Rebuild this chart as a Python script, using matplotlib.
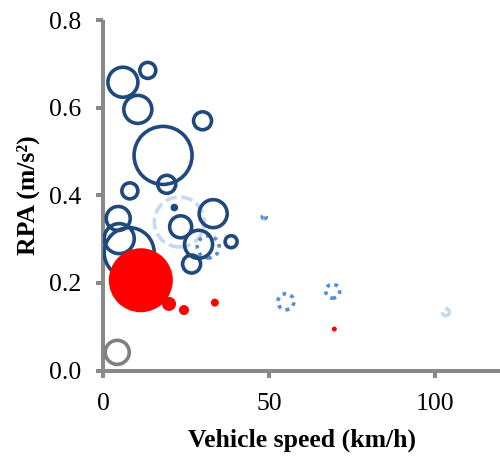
import matplotlib
matplotlib.use("Agg")
import matplotlib.pyplot as plt
import numpy as np

plt.rcParams['font.family'] = ['Liberation Serif', 'DejaVu Serif']

# ---- data ----
dark_x = [5.9, 13.4, 10.4, 18.0, 29.9, 19.1, 8.0, 21.4, 33.1, 23.3, 4.5, 4.8, 7.8, 28.7, 26.6, 38.5]
dark_y = [0.658, 0.685, 0.596, 0.491, 0.570, 0.425, 0.410, 0.372, 0.358, 0.328, 0.347, 0.301, 0.269, 0.288, 0.243, 0.294]
dark_v = [225, 64, 196, 841, 81, 81, 64, 4, 196, 121, 144, 225, 625, 196, 81, 36]

light_x = [22.9, 103.2]
light_y = [0.339, 0.133]
light_v = [625, 12]

mid_x = [31.6, 48.5, 55.0, 69.1]
mid_y = [0.282, 0.351, 0.157, 0.181]
mid_v = [121, 4, 64, 49]

red_x = [11.3, 19.8, 24.3, 33.6, 69.6]
red_y = [0.206, 0.152, 0.138, 0.155, 0.0946]
red_v = [1024, 49, 25, 16, 6]

gray_x = [4.2]
gray_y = [0.0415]
gray_v = [144]

x_ticks = [0, 50, 100]
y_ticks = [0.0, 0.2, 0.4, 0.6, 0.8]
x_label = "Vehicle speed (km/h)"
y_label = "RPA (m/s²)"

# ---- figure ----
fig = plt.figure(figsize=(5.0, 4.59), dpi=100)
ax = fig.add_axes([0.2066, 0.1928, 0.7934, 0.7636])

def sz(v):
    return np.array(v) * (2 * 0.72) ** 2

LW = 2.6
ax.scatter(dark_x, dark_y, s=sz(dark_v), facecolors='none', edgecolors='#1F497D', linewidths=LW, zorder=3)
ax.scatter(light_x, light_y, s=sz(light_v), facecolors='none', edgecolors='#C6D9F1', linewidths=LW,
           linestyles=[(0, (3.2, 1.3))], zorder=2)
ax.scatter(mid_x, mid_y, s=sz(mid_v), facecolors='none', edgecolors='#558ED5', linewidths=LW,
           linestyles=[(0, (1, 1.3))], zorder=2)
ax.scatter(red_x, red_y, s=sz(red_v), facecolors='#FF0000', edgecolors='none', zorder=4)
ax.scatter(gray_x, gray_y, s=sz(gray_v), facecolors='none', edgecolors='#808080', linewidths=LW, zorder=3)

ax.set_xlim(0, 119.5)
ax.set_ylim(0, 0.8)
ax.set_xticks(x_ticks)
ax.set_yticks(y_ticks)
ax.set_yticklabels([f"{t:.1f}" for t in y_ticks])

for s in ['top', 'right']:
    ax.spines[s].set_visible(False)
for s in ['left', 'bottom']:
    ax.spines[s].set_color('#898989')
    ax.spines[s].set_linewidth(2.9)
    ax.spines[s].set_capstyle('butt')

ax.tick_params(axis='both', direction='out', length=5, width=2.9, color='#898989',
               labelsize=18.5, labelcolor='black')
ax.tick_params(axis='y', pad=11)
ax.tick_params(axis='x', pad=11)

ax.set_xlabel(x_label, fontsize=18.5, fontweight='bold', labelpad=10)
ax.set_ylabel(y_label, fontsize=18.5, fontweight='bold', labelpad=6)

fig.savefig("out.png", dpi=100)
